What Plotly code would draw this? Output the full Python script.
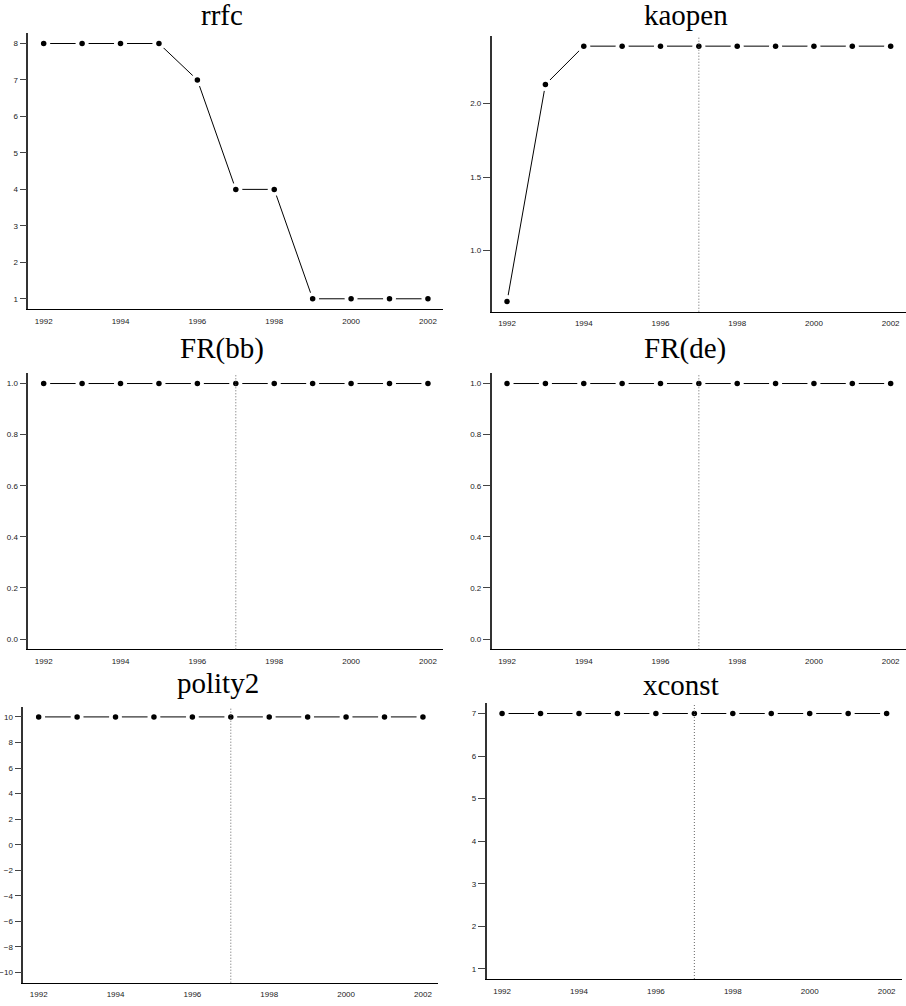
import plotly.graph_objects as go

W, H = 906, 1006

years = [1992, 1993, 1994, 1995, 1996, 1997, 1998, 1999, 2000, 2001, 2002]
rrfc = [8, 8, 8, 8, 7, 4, 4, 1, 1, 1, 1]
kaopen = [0.654, 2.129, 2.39, 2.39, 2.39, 2.39, 2.39, 2.39, 2.39, 2.39, 2.39]
fr_bb = [1.0, 1.0, 1.0, 1.0, 1.0, 1.0, 1.0, 1.0, 1.0, 1.0, 1.0]
fr_de = [1.0, 1.0, 1.0, 1.0, 1.0, 1.0, 1.0, 1.0, 1.0, 1.0, 1.0]
polity2 = [10, 10, 10, 10, 10, 10, 10, 10, 10, 10, 10]
xconst = [7, 7, 7, 7, 7, 7, 7, 7, 7, 7, 7]

titles = ["rrfc", "kaopen", "FR(bb)", "FR(de)", "polity2", "xconst"]
series = [rrfc, kaopen, fr_bb, fr_de, polity2, xconst]
xtick_vals = [1992, 1994, 1996, 1998, 2000, 2002]
ytick_vals = [
    [1, 2, 3, 4, 5, 6, 7, 8],
    [1.0, 1.5, 2.0],
    [0.0, 0.2, 0.4, 0.6, 0.8, 1.0],
    [0.0, 0.2, 0.4, 0.6, 0.8, 1.0],
    [-10, -8, -6, -4, -2, 0, 2, 4, 6, 8, 10],
    [1, 2, 3, 4, 5, 6, 7],
]
ytick_text = [
    ["1", "2", "3", "4", "5", "6", "7", "8"],
    ["1.0", "1.5", "2.0"],
    ["0.0", "0.2", "0.4", "0.6", "0.8", "1.0"],
    ["0.0", "0.2", "0.4", "0.6", "0.8", "1.0"],
    ["\u221210", "\u22128", "\u22126", "\u22124", "\u22122", "0", "2", "4", "6", "8", "10"],
    ["1", "2", "3", "4", "5", "6", "7"],
]
y_ranges = [[0.72, 8.28], [0.585, 2.459], [-0.04, 1.04], [-0.04, 1.04], [-10.8, 10.8], [0.76, 7.24]]
x_range = [1991.6, 2002.4]
vline_year = 1997
has_vline = [False, True, True, True, True, True]

# plot regions in pixels: (x0, x1, ytop, ybottom)
regions = [
    (28.3, 443.3, 33.3, 309.0),
    (491.7, 906.0, 36.0, 311.7),
    (28.3, 443.3, 373.3, 649.3),
    (491.7, 906.0, 373.3, 649.3),
    (23.3, 438.3, 706.7, 982.7),
    (486.7, 902.0, 703.3, 979.0),
]
# title positions (center x, baseline y) in pixels
title_pos = [(222.0, 26.0), (685.5, 26.0), (221.7, 360.0), (685.3, 360.0), (218.3, 694.3), (680.7, 695.7)]

fig = go.Figure()
layout = {}
shapes = []
annotations = []

for i in range(6):
    n = i + 1
    xa = "x" if n == 1 else f"x{n}"
    ya = "y" if n == 1 else f"y{n}"
    x0, x1, yt, yb = regions[i]
    data = series[i]
    fig.add_trace(go.Scatter(x=years, y=data, mode="lines", xaxis=xa, yaxis=ya,
                             line=dict(color="black", width=1), showlegend=False, hoverinfo="skip"))
    fig.add_trace(go.Scatter(x=years, y=data, mode="markers", xaxis=xa, yaxis=ya,
                             marker=dict(color="white", size=13, line=dict(width=0)),
                             showlegend=False, hoverinfo="skip"))
    fig.add_trace(go.Scatter(x=years, y=data, mode="markers", xaxis=xa, yaxis=ya,
                             marker=dict(color="black", size=5.5, line=dict(width=0)),
                             showlegend=False))
    layout[f"xaxis{n}" if n > 1 else "xaxis"] = dict(
        domain=[x0 / W, x1 / W], anchor=ya, range=x_range,
        tickmode="array", tickvals=xtick_vals, ticktext=[str(v) for v in xtick_vals],
        showgrid=False, zeroline=False, showline=True, linecolor="black", linewidth=1,
        ticks="outside", ticklen=4, tickcolor="rgba(0,0,0,0)",
        tickfont=dict(family="Liberation Sans, Arial, sans-serif", size=8, color="#222"),
    )
    layout[f"yaxis{n}" if n > 1 else "yaxis"] = dict(
        domain=[1 - yb / H, 1 - yt / H], anchor=xa, range=y_ranges[i],
        tickmode="array", tickvals=ytick_vals[i], ticktext=ytick_text[i],
        showgrid=False, zeroline=False, showline=True, linecolor="#333", linewidth=1.6,
        ticks="outside", ticklen=7, tickcolor="#444", tickwidth=1,
        tickfont=dict(family="Liberation Sans, Arial, sans-serif", size=8, color="#222"),
    )
    if has_vline[i]:
        shapes.append(dict(type="line", xref=xa, yref=f"{ya} domain", x0=vline_year, x1=vline_year,
                           y0=0, y1=1, line=dict(color="#666", width=1, dash="1px,2px"), layer="above"))
    tx, ty = title_pos[i]
    annotations.append(dict(text=titles[i], xref="paper", yref="paper", x=tx / W, y=1 - (ty + 7) / H,
                            xanchor="center", yanchor="bottom", showarrow=False,
                            font=dict(family="Liberation Serif, Times New Roman, serif", size=29, color="black")))

fig.update_layout(**layout)
fig.update_layout(width=W, height=H, margin=dict(l=0, r=0, t=0, b=0),
                  paper_bgcolor="white", plot_bgcolor="white",
                  shapes=shapes, annotations=annotations, showlegend=False)
fig.write_html("out.html", config={"displayModeBar": False},
               post_script=("document.body.style.margin='0';document.body.style.overflow='hidden';"
                            "document.documentElement.style.overflow='hidden';"))
